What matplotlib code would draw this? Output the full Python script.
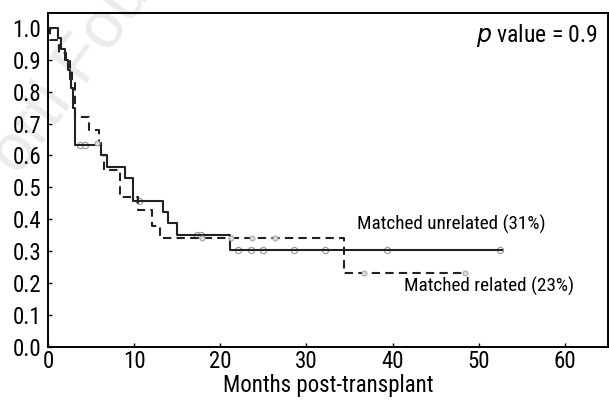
import matplotlib
matplotlib.use("Agg")
import matplotlib.pyplot as plt

plt.rcParams['font.family'] = ['Roboto Condensed', 'DejaVu Sans']

# Kaplan-Meier steps (months, survival after the step)
unrel_t = [0, 1.1, 1.5, 2.0, 2.3, 2.5, 2.7, 2.9, 3.1, 6.2, 6.8, 8.9, 9.9, 13.3, 13.9, 15.0, 21.1, 52.7]
unrel_s = [1.0, 0.967, 0.933, 0.90, 0.867, 0.84, 0.81, 0.75, 0.634, 0.60, 0.565, 0.53, 0.458, 0.422, 0.387, 0.35, 0.305, 0.305]
unrel_cens_t = [3.7, 4.3, 10.6, 17.3, 17.7, 22.1, 23.6, 25.0, 28.5, 32.1, 39.4, 52.5]
unrel_cens_s = [0.634, 0.634, 0.458, 0.35, 0.35, 0.305, 0.305, 0.305, 0.305, 0.305, 0.305, 0.305]

rel_t = [0, 0.2, 1.3, 2.1, 2.5, 2.8, 3.1, 4.7, 5.9, 6.2, 6.5, 8.4, 10.4, 12.1, 13.0, 34.4, 48.4]
rel_s = [1.0, 0.962, 0.92, 0.90, 0.87, 0.84, 0.72, 0.68, 0.64, 0.60, 0.555, 0.47, 0.43, 0.38, 0.341, 0.23, 0.23]
rel_cens_t = [5.7, 17.9, 21.2, 23.7, 26.4, 36.7, 48.4]
rel_cens_s = [0.64, 0.341, 0.341, 0.341, 0.341, 0.23, 0.23]

x_ticks = [0, 10, 20, 30, 40, 50, 60]
y_ticks = [0.0, 0.1, 0.2, 0.3, 0.4, 0.5, 0.6, 0.7, 0.8, 0.9, 1.0]

fig = plt.figure(figsize=(6.09, 4.01), dpi=100)
ax = fig.add_axes([0.079, 0.135, 0.919, 0.833])
ax.set_zorder(1)

# faint publisher watermark, kept behind the plot
fig.text(0.03, 0.56, "orti Foundation", rotation=54, rotation_mode='anchor',
         fontsize=48, family='Liberation Sans', color='#ebebeb',
         ha='left', va='baseline', zorder=0)

ax.step(unrel_t, unrel_s, where='post', color='#222222', lw=1.5, zorder=3)
ax.step(rel_t, rel_s, where='post', color='#222222', lw=1.5, ls=(0, (4, 2.5)), zorder=3)
ax.plot(unrel_cens_t, unrel_cens_s, 'o', ms=4.5, mfc='white', mec='#999999', mew=0.8, zorder=2)
ax.plot(rel_cens_t, rel_cens_s, 'o', ms=3.5, mfc='#dddddd', mec='#aaaaaa', mew=0.8, zorder=4)

ax.set_xlim(0, 65)
ax.set_ylim(0, 1.047)
ax.set_xticks(x_ticks)
ax.set_yticks(y_ticks)
ax.set_yticklabels([f"{v:.1f}" for v in y_ticks])
ax.tick_params(direction='in', length=3, width=1, labelsize=16.5)
ax.tick_params(axis='x', pad=2)
ax.tick_params(axis='y', pad=5)
for sp in ax.spines.values():
    sp.set_linewidth(1.4)
ax.patch.set_alpha(0)

ax.set_xlabel("Months post-transplant", fontsize=16.5, labelpad=1)

ax.text(63.9, 0.975, r"$\it{p}$ value = 0.9", fontsize=17, ha='right', va='center')
ax.text(35.9, 0.385, "Matched unrelated (31%)", fontsize=13.8, ha='left', va='center')
ax.text(41.3, 0.19, "Matched related (23%)", fontsize=13.8, ha='left', va='center')

fig.savefig("out.png", dpi=100)
